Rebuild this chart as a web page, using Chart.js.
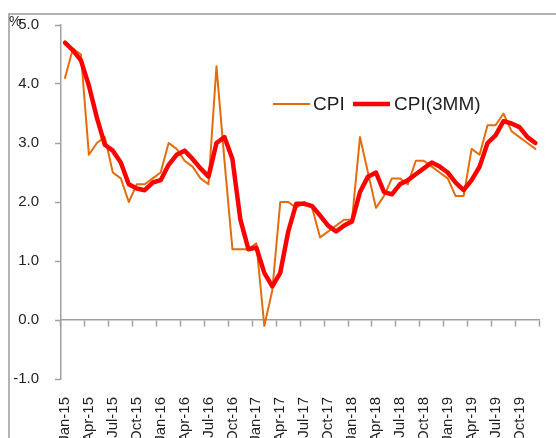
<!DOCTYPE html>
<html>
<head>
<meta charset="utf-8">
<title>CPI</title>
<script src="https://cdn.jsdelivr.net/npm/chart.js@4.4.1/dist/chart.umd.min.js"></script>
<style>
  html, body { margin: 0; padding: 0; background: #fff; }
  #wrap { width: 556px; height: 438px; overflow: hidden; position: relative; }
</style>
</head>
<body>
<div id="wrap"><canvas id="cpiChart" width="556" height="460"></canvas></div>
<script>
const categories = [
  "Jan-15", "Feb-15", "Mar-15", "Apr-15", "May-15", "Jun-15", "Jul-15", "Aug-15", "Sep-15", "Oct-15", "Nov-15", "Dec-15",
  "Jan-16", "Feb-16", "Mar-16", "Apr-16", "May-16", "Jun-16", "Jul-16", "Aug-16", "Sep-16", "Oct-16", "Nov-16", "Dec-16",
  "Jan-17", "Feb-17", "Mar-17", "Apr-17", "May-17", "Jun-17", "Jul-17", "Aug-17", "Sep-17", "Oct-17", "Nov-17", "Dec-17",
  "Jan-18", "Feb-18", "Mar-18", "Apr-18", "May-18", "Jun-18", "Jul-18", "Aug-18", "Sep-18", "Oct-18", "Nov-18", "Dec-18",
  "Jan-19", "Feb-19", "Mar-19", "Apr-19", "May-19", "Jun-19", "Jul-19", "Aug-19", "Sep-19", "Oct-19", "Nov-19", "Dec-19"
];

const cpi = [
  4.1, 4.6, 4.5, 2.8, 3.0, 3.1, 2.5, 2.4, 2.0, 2.3, 2.3, 2.4,
  2.5, 3.0, 2.9, 2.7, 2.6, 2.4, 2.3, 4.3, 2.7, 1.2, 1.2, 1.2,
  1.3, -0.1, 0.5, 2.0, 2.0, 1.9, 2.0, 1.9, 1.4, 1.5, 1.6, 1.7,
  1.7, 3.1, 2.5, 1.9, 2.1, 2.4, 2.4, 2.3, 2.7, 2.7, 2.6, 2.5,
  2.4, 2.1, 2.1, 2.9, 2.8, 3.3, 3.3, 3.5, 3.2, 3.1, 3.0, 2.9
];

const cpi3mm = [
  4.70, 4.57, 4.40, 3.97, 3.43, 2.97, 2.87, 2.67, 2.30, 2.23, 2.20, 2.33,
  2.37, 2.63, 2.80, 2.87, 2.73, 2.57, 2.43, 3.00, 3.10, 2.73, 1.70, 1.20,
  1.23, 0.80, 0.57, 0.80, 1.50, 1.97, 1.97, 1.93, 1.77, 1.60, 1.50, 1.60,
  1.67, 2.17, 2.43, 2.50, 2.17, 2.13, 2.30, 2.37, 2.47, 2.57, 2.67, 2.60,
  2.50, 2.33, 2.20, 2.37, 2.60, 3.00, 3.13, 3.37, 3.33, 3.27, 3.10, 3.00
];

const xTickLabels = [
  "Jan-15", "Apr-15", "Jul-15", "Oct-15", "Jan-16", "Apr-16", "Jul-16", "Oct-16",
  "Jan-17", "Apr-17", "Jul-17", "Oct-17", "Jan-18", "Apr-18", "Jul-18", "Oct-18",
  "Jan-19", "Apr-19", "Jul-19", "Oct-19"
];
const yTicks = [-1, 0, 1, 2, 3, 4, 5];

const axisGrey = "#a0a0a0";
const textColor = "#1f1f1f";
const fontFamily = "Liberation Sans";

// outer frame, the % unit and the legend are painted on the canvas
const extras = {
  id: "extras",
  afterDraw(chart) {
    const c = chart.ctx;
    c.save();
    c.strokeStyle = "#9a9a9a";
    c.lineWidth = 1.5;
    c.beginPath();
    c.moveTo(9, chart.height);
    c.lineTo(9, 14);
    c.lineTo(chart.width, 14);
    c.stroke();

    c.fillStyle = textColor;
    c.font = "14px " + fontFamily;
    c.textBaseline = "top";
    c.fillText("%", 9, 15);

    const spots = [[273, 313], [353, 394]];
    chart.data.datasets.forEach((ds, i) => {
      const [x, tx] = spots[i];
      c.strokeStyle = ds.borderColor;
      c.lineWidth = ds.borderWidth;
      c.beginPath();
      c.moveTo(x, 104);
      c.lineTo(x + 37, 104);
      c.stroke();
      c.font = "19px " + fontFamily;
      c.textBaseline = "middle";
      c.fillText(ds.label, tx, 105);
    });
    c.restore();
  }
};

new Chart(document.getElementById("cpiChart"), {
  type: "line",
  data: {
    labels: categories,
    datasets: [
      { label: "CPI", data: cpi, borderColor: "#E46C0A", borderWidth: 2, order: 1 },
      { label: "CPI(3MM)", data: cpi3mm, borderColor: "#FF0000", borderWidth: 4.5, order: 0 }
    ]
  },
  options: {
    responsive: false,
    animation: false,
    layout: { padding: { top: 25, right: 13, left: 0, bottom: 0 } },
    elements: {
      point: { radius: 0 },
      line: { tension: 0, borderJoinStyle: "round", borderCapStyle: "round", fill: false }
    },
    plugins: { legend: { display: false }, tooltip: { enabled: false } },
    scales: {
      x: {
        offset: true,
        grid: { display: false, drawTicks: false },
        border: { display: false },
        ticks: {
          autoSkip: false, maxRotation: 90, minRotation: 90, padding: 18,
          color: textColor, font: { family: fontFamily, size: 15 },
          callback(v) {
            const l = this.getLabelForValue(v);
            return xTickLabels.includes(l) ? l : null;
          }
        },
        afterFit(s) { s.height = 81; }
      },
      x0: {
        type: "category",
        axis: "x",
        position: { y: 0 },
        offset: true,
        grid: {
          offset: true, drawOnChartArea: false, tickLength: 6, tickWidth: 1.5,
          tickColor: ctx => (ctx.index === undefined || ctx.index % 3 === 0) ? axisGrey : "rgba(0,0,0,0)"
        },
        border: { color: axisGrey, width: 1.5 },
        ticks: { display: false }
      },
      y: {
        min: -1,
        max: 5,
        afterBuildTicks(s) { s.ticks = yTicks.map(v => ({ value: v })); },
        grid: { drawOnChartArea: false, tickLength: 6, tickColor: axisGrey, tickWidth: 1.5 },
        border: { color: axisGrey, width: 1.5 },
        ticks: {
          padding: 16, color: textColor, font: { family: fontFamily, size: 15 },
          callback: v => v.toFixed(1)
        },
        afterFit(s) { s.width = 61; }
      }
    }
  },
  plugins: [extras]
});
</script>
</body>
</html>
